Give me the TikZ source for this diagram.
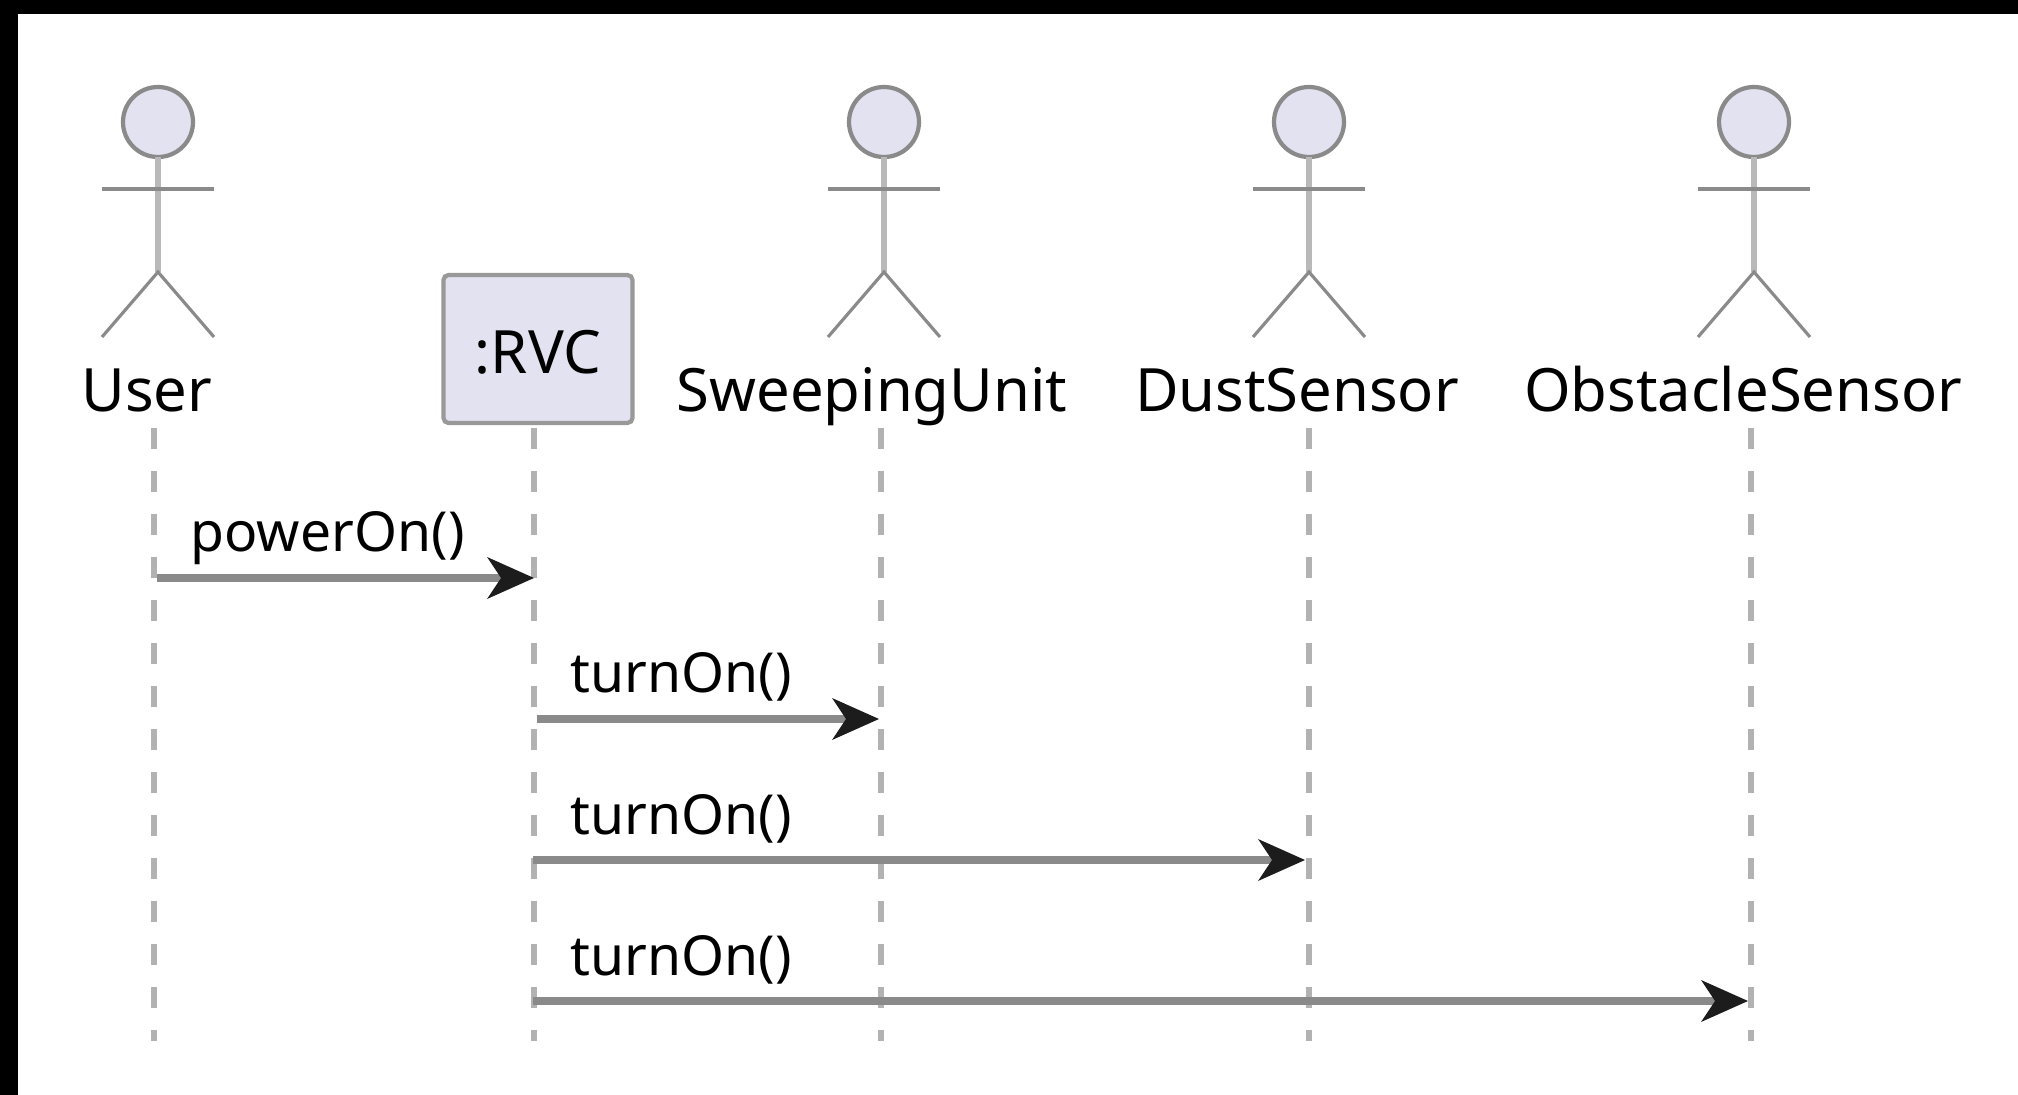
\documentclass[tikz,border=0pt]{standalone}
\usepackage{xcolor}
\usepackage{fontspec}
\setmainfont{Noto Sans}
\usetikzlibrary{arrows.meta}

\definecolor{actorfill}{HTML}{E2E2F0}
\definecolor{linegray}{HTML}{8A8A8A}
\definecolor{tipgray}{HTML}{1C1C1C}

\begin{document}
\begin{tikzpicture}[font=\fontsize{15.7}{18}\selectfont]
		\tikzstyle{actorhead} = [draw=linegray, line width=1.2pt, fill=actorfill, circle, minimum size=.7cm, inner sep=0pt]
		\tikzstyle{spine} = [draw=gray!55, line width=1.5pt]
		\tikzstyle{limb} = [draw=linegray, line width=.9pt]
		\tikzstyle{box} = [draw=gray!80, line width=1.2pt, fill=actorfill, rectangle, rounded corners=.05cm, minimum width=1.89cm, minimum height=1.48cm, inner sep=0pt, text height=.49cm, text depth=0cm, font=\fontsize{17}{20}\selectfont]
		\tikzstyle{title} = [anchor=base, inner sep=0pt, font=\fontsize{17}{20}\selectfont]
		\tikzstyle{call} = [anchor=base west, inner sep=0pt]
		\tikzstyle{lifeline} = [draw=gray!60, line width=1.8pt, dash pattern=on .21cm off .22cm]
		\tikzstyle{arrow} = [draw=linegray, line width=2.3pt, -{Stealth[length=.47cm, width=.42cm, inset=.14cm, line width=0pt, color=tipgray]}]
		
		\useasboundingbox (0, 0) rectangle (20.18, -10.95);
		\fill [white] (0, 0) rectangle (20.18, -10.95);
		\fill [black] (0, 0) rectangle (20.18, -.14);
		\fill [black] (0, 0) rectangle (.18, -10.95);
		
		% actors
		\node[actorhead]	at (1.58, -1.22)	(a0)	{};
		\node[actorhead]	at (8.84, -1.22)	(a2)	{};
		\node[actorhead]	at (13.09, -1.22)	(a3)	{};
		\node[actorhead]	at (17.54, -1.22)	(a4)	{};
		
		\draw [spine] (a0) ++(0, -.35) -- ++(0, -1.15);
		\draw [spine] (a2) ++(0, -.35) -- ++(0, -1.15);
		\draw [spine] (a3) ++(0, -.35) -- ++(0, -1.15);
		\draw [spine] (a4) ++(0, -.35) -- ++(0, -1.15);
		
		\draw [limb] (a0) ++(-.56, -.67) -- ++(1.12, 0);
		\draw [limb] (a2) ++(-.56, -.67) -- ++(1.12, 0);
		\draw [limb] (a3) ++(-.56, -.67) -- ++(1.12, 0);
		\draw [limb] (a4) ++(-.56, -.67) -- ++(1.12, 0);
		
		\draw [limb] (a0) ++(-.56, -2.15) -- ++(.56, .65) -- ++(.56, -.65);
		\draw [limb] (a2) ++(-.56, -2.15) -- ++(.56, .65) -- ++(.56, -.65);
		\draw [limb] (a3) ++(-.56, -2.15) -- ++(.56, .65) -- ++(.56, -.65);
		\draw [limb] (a4) ++(-.56, -2.15) -- ++(.56, .65) -- ++(.56, -.65);
		
		% names
		\node[title]	at (1.47, -4.12)	(n0)	{User};
		\node[box]	at (5.38, -3.49)	(n1)	{:RVC};
		\node[title]	at (8.72, -4.12)	(n2)	{SweepingUnit};
		\node[title]	at (12.97, -4.12)	(n3)	{DustSensor};
		\node[title]	at (17.43, -4.12)	(n4)	{ObstacleSensor};
		
		% lifelines
		\coordinate (t0) at (1.54, -4.28);
		\coordinate (t1) at (5.34, -4.28);
		\coordinate (t2) at (8.81, -4.28);
		\coordinate (t3) at (13.09, -4.28);
		\coordinate (t4) at (17.51, -4.28);
		
		\coordinate (b0) at (1.54, -10.41);
		\coordinate (b1) at (5.34, -10.41);
		\coordinate (b2) at (8.81, -10.41);
		\coordinate (b3) at (13.09, -10.41);
		\coordinate (b4) at (17.51, -10.41);
		
		\draw [lifeline] (t0) -- (b0);
		\draw [lifeline] (t1) -- (b1);
		\draw [lifeline] (t2) -- (b2);
		\draw [lifeline] (t3) -- (b3);
		\draw [lifeline] (t4) -- (b4);
		
		% messages
		\coordinate (p0) at (1.57, -5.78);
		\coordinate (p1) at (5.34, -5.78);
		\coordinate (q1) at (5.37, -7.19);
		\coordinate (q2) at (8.79, -7.19);
		\coordinate (r1) at (5.33, -8.60);
		\coordinate (r3) at (13.05, -8.60);
		\coordinate (s1) at (5.33, -10.01);
		\coordinate (s4) at (17.48, -10.01);
		
		\draw [arrow] (p0) -- (p1);
		\draw [arrow] (q1) -- (q2);
		\draw [arrow] (r1) -- (r3);
		\draw [arrow] (s1) -- (s4);
		
		\node[call]	at (1.90, -5.52)	(c0)	{powerOn()};
		\node[call]	at (5.70, -6.93)	(c1)	{turnOn()};
		\node[call]	at (5.70, -8.34)	(c2)	{turnOn()};
		\node[call]	at (5.70, -9.75)	(c3)	{turnOn()};
	\end{tikzpicture}
\end{document}
